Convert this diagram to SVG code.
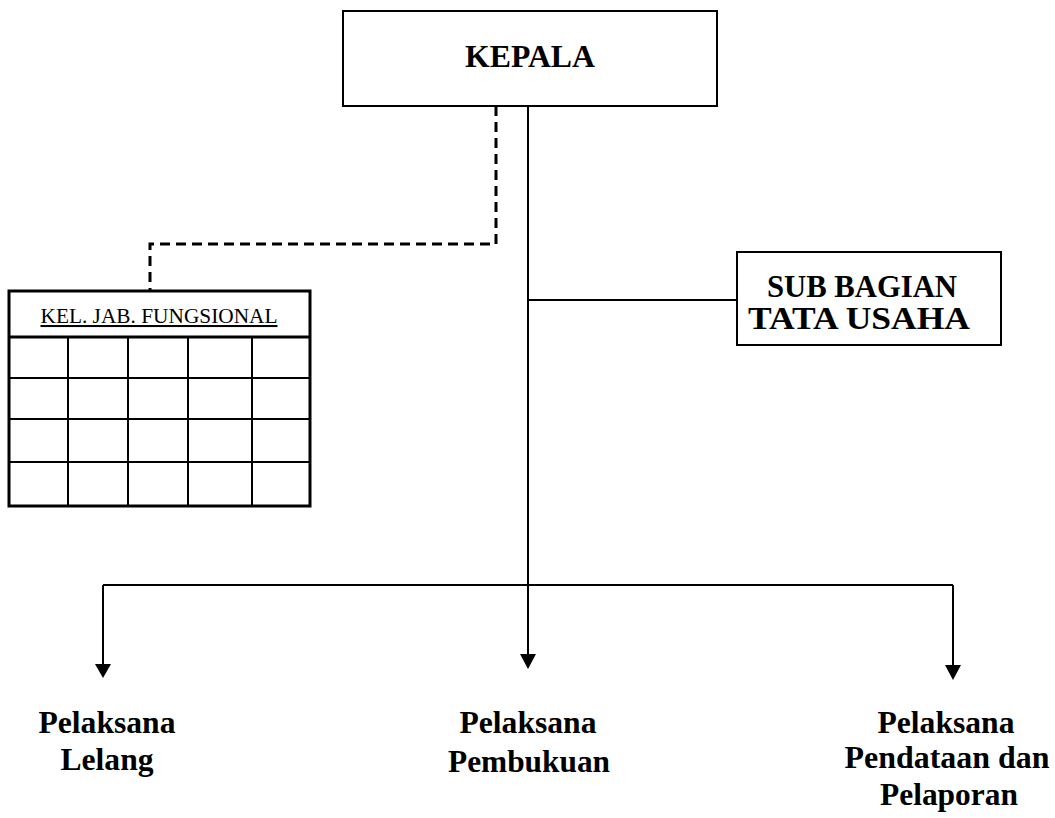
<svg xmlns="http://www.w3.org/2000/svg" width="1055" height="818" viewBox="0 0 1055 818">
<style>
.box{fill:#fff;stroke:#000;stroke-width:2}
.ln{fill:none;stroke:#000;stroke-width:2}
.dash{fill:none;stroke:#000;stroke-width:3;stroke-dasharray:10 6}
.thick{fill:none;stroke:#000;stroke-width:3}
.head{fill:#000}
.b{font-family:"Liberation Serif","Times New Roman",serif;font-weight:bold;font-size:31.5px;text-anchor:middle;fill:#000}
.r{font-family:"Liberation Serif","Times New Roman",serif;font-size:20.5px;text-anchor:middle;fill:#000}
</style>
<rect width="1055" height="818" fill="#fff"/>
<g id="connectors">
<path class="dash" d="M496,106 V244 H150 V291"/>
<path class="ln" d="M528,106 V655"/>
<path class="ln" d="M528,300 H737"/>
<path class="ln" d="M103,585 H953"/>
<path class="ln" d="M103,585 V665"/>
<path class="ln" d="M953,585 V666"/>
<polygon class="head" points="95,664 111,664 103,678"/>
<polygon class="head" points="520,654 536,654 528,669"/>
<polygon class="head" points="945,665 961,665 953,680"/>
</g>
<g id="kepala">
<rect class="box" x="343" y="11" width="374" height="95"/>
<text class="b" x="530" y="67" textLength="130" lengthAdjust="spacingAndGlyphs">KEPALA</text>
</g>
<g id="sub-bagian">
<rect class="box" x="737" y="252" width="264" height="93"/>
<text class="b" x="862" y="297" textLength="190" lengthAdjust="spacingAndGlyphs">SUB BAGIAN</text>
<text class="b" x="859" y="329" textLength="222" lengthAdjust="spacingAndGlyphs">TATA USAHA</text>
</g>
<g id="fungsional">
<rect class="thick" x="9" y="291" width="301" height="215" fill="#fff"/>
<path class="thick" d="M9,337 H310"/>
<path class="ln" d="M9,378 H310 M9,419 H310 M9,462 H310 M68,337 V506 M128,337 V506 M188,337 V506 M252,337 V506"/>
<text class="r" x="159" y="323" textLength="237" lengthAdjust="spacingAndGlyphs" text-decoration="underline">KEL. JAB. FUNGSIONAL</text>
</g>
<g id="pelaksana-lelang">
<text class="b" x="107" y="733" textLength="137" lengthAdjust="spacingAndGlyphs">Pelaksana</text>
<text class="b" x="107" y="770" textLength="93" lengthAdjust="spacingAndGlyphs">Lelang</text>
</g>
<g id="pelaksana-pembukuan">
<text class="b" x="528" y="733" textLength="137" lengthAdjust="spacingAndGlyphs">Pelaksana</text>
<text class="b" x="529" y="772" textLength="162" lengthAdjust="spacingAndGlyphs">Pembukuan</text>
</g>
<g id="pelaksana-pendataan">
<text class="b" x="946" y="733" textLength="137" lengthAdjust="spacingAndGlyphs">Pelaksana</text>
<text class="b" x="947" y="768" textLength="205" lengthAdjust="spacingAndGlyphs">Pendataan dan</text>
<text class="b" x="949" y="805" textLength="138" lengthAdjust="spacingAndGlyphs">Pelaporan</text>
</g>
</svg>
